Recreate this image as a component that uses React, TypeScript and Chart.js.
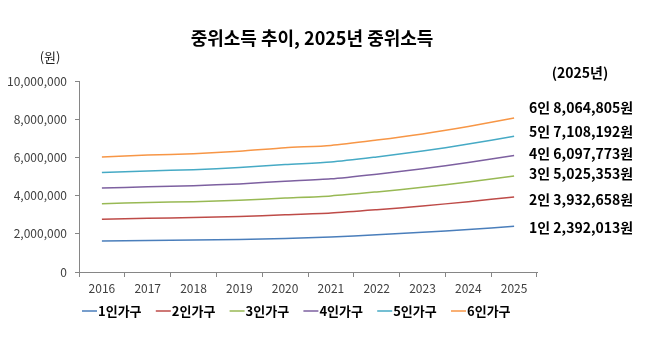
import React, { useEffect, useRef } from "react";
import { Chart, registerables } from "chart.js";

Chart.register(...registerables);

const years = ["2016", "2017", "2018", "2019", "2020", "2021", "2022", "2023", "2024", "2025"];
const seriesNames = ["1인가구", "2인가구", "3인가구", "4인가구", "5인가구", "6인가구"];
const shortNames = ["1인", "2인", "3인", "4인", "5인", "6인"];
const house1 = [1624831, 1652931, 1672105, 1707008, 1757194, 1827831, 1944812, 2077892, 2228445, 2392013];
const house2 = [2766603, 2814449, 2847097, 2906528, 2991980, 3088079, 3260085, 3456155, 3682609, 3932658];
const house3 = [3579019, 3640915, 3683150, 3760032, 3870577, 3983950, 4194701, 4434816, 4714657, 5025353];
const house4 = [4391434, 4467380, 4519202, 4613536, 4749174, 4876290, 5121080, 5400964, 5729913, 6097773];
const house5 = [5203849, 5293845, 5355254, 5467040, 5627771, 5757373, 6024515, 6330688, 6695735, 7108192];
const house6 = [6016265, 6120311, 6191307, 6320544, 6506368, 6628603, 6907004, 7227981, 7618369, 8064805];
const yTicks = [0, 2000000, 4000000, 6000000, 8000000, 10000000];

const titleText = "중위소득 추이, 2025년 중위소득";
const unitText = "(원)";
const yearNote = "(2025년)";

const colors = ["#4A7EBB", "#BE4B48", "#98B954", "#7D60A0", "#46AAC5", "#F79646"];
const FONT = "'Noto Sans CJK KR', 'Noto Sans', sans-serif";
const labelOffsets = [1, 3, -2, -2, -5, -10];

export default function App() {
  const ref = useRef<HTMLCanvasElement | null>(null);
  useEffect(() => {
    document.body.style.margin = "0";
    const all = [house1, house2, house3, house4, house5, house6];
    const overlay = {
      id: "overlay",
      afterDraw(chart: any) {
        const ctx = chart.ctx;
        const ys = chart.scales.y;
        ctx.save();
        ctx.fillStyle = "#000";
        ctx.textBaseline = "middle";
        ctx.textAlign = "center";
        ctx.font = `bold 18px ${FONT}`;
        ctx.fillText(titleText, 312, 38);
        ctx.font = `13px ${FONT}`;
        ctx.fillStyle = "#222";
        ctx.fillText(unitText, 50, 57);
        ctx.fillStyle = "#000";
        ctx.font = `bold 14px ${FONT}`;
        ctx.fillText(yearNote, 580, 73);
        ctx.textAlign = "left";
        chart.data.datasets.forEach((ds: any, i: number) => {
          const v = ds.data[ds.data.length - 1];
          const y = ys.getPixelForValue(v) + labelOffsets[i];
          ctx.font = `bold 14px ${FONT}`;
          ctx.fillStyle = "#000";
          ctx.fillText(`${shortNames[i]} ${v.toLocaleString("en-US")}원`, 529, y);
        });
        chart.data.datasets.forEach((ds: any, i: number) => {
          const x0 = 82 + i * 73.8;
          const y = 311;
          ctx.strokeStyle = ds.borderColor;
          ctx.lineWidth = 1.5;
          ctx.beginPath();
          ctx.moveTo(x0, y);
          ctx.lineTo(x0 + 15, y);
          ctx.stroke();
          ctx.font = `bold 13px ${FONT}`;
          ctx.fillStyle = "#000";
          ctx.fillText(ds.label, x0 + 16, y);
        });
        ctx.restore();
      },
    };
    const chart = new Chart(ref.current as HTMLCanvasElement, {
      type: "line",
      data: {
        labels: years,
        datasets: all.map((d, i) => ({
          label: seriesNames[i],
          data: d,
          borderColor: colors[i],
          backgroundColor: colors[i],
          borderWidth: 1.5,
          pointRadius: 0,
          tension: 0.25,
          fill: false,
        })),
      },
      options: {
        responsive: false,
        animation: false,
        layout: { padding: { top: 81, right: 112, bottom: 0, left: 0 } },
        plugins: {
          legend: { display: false },
          title: { display: false },
          tooltip: { enabled: false },
        },
        scales: {
          x: {
            offset: true,
            grid: {
              offset: true,
              drawOnChartArea: false,
              drawTicks: true,
              tickLength: 5,
              color: "#868686",
            },
            border: { display: true, color: "#868686" },
            ticks: { color: "#404040", font: { family: FONT, size: 12 }, padding: 4, maxRotation: 0 },
            afterFit: (s: any) => {
              s.height = 89;
            },
          },
          y: {
            min: 0,
            max: 10000000,
            afterBuildTicks: (s: any) => {
              s.ticks = yTicks.map((v) => ({ value: v }));
            },
            grid: {
              drawOnChartArea: false,
              drawTicks: true,
              tickLength: 4,
              color: "#868686",
            },
            border: { display: true, color: "#868686" },
            ticks: {
              color: "#404040",
              font: { family: FONT, size: 12 },
              padding: 8,
              callback: (v: any) => Number(v).toLocaleString("en-US"),
            },
            afterFit: (s: any) => {
              s.width = 79;
            },
          },
        },
      },
      plugins: [overlay],
    });
    return () => chart.destroy();
  }, []);
  return (
    <div style={{ width: 649, height: 361, position: "relative" }}>
      <canvas ref={ref} width={649} height={361} style={{ display: "block" }} />
    </div>
  );
}
